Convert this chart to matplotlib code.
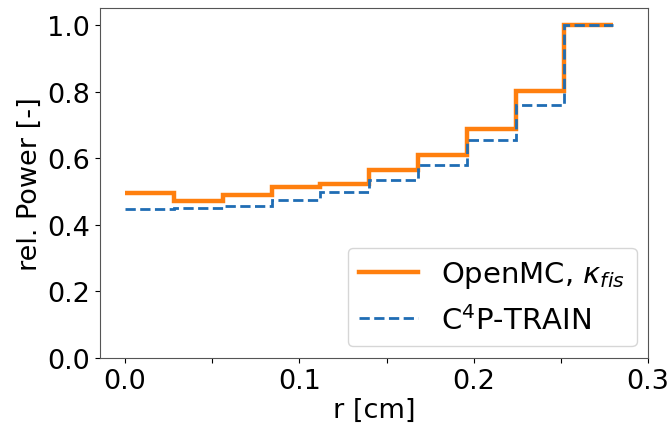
import matplotlib
matplotlib.use("Agg")
import matplotlib.pyplot as plt
import numpy as np

edges = [0.0, 0.028, 0.056, 0.084, 0.112, 0.14, 0.168, 0.196, 0.224, 0.252, 0.28]
openmc = [0.496, 0.473, 0.490, 0.515, 0.524, 0.566, 0.609, 0.687, 0.801, 1.0]
c4p = [0.448, 0.451, 0.456, 0.474, 0.498, 0.534, 0.581, 0.656, 0.759, 1.0]

plt.rcParams['font.size'] = 19.5
fig = plt.figure(figsize=(6.71, 4.31), dpi=100)
ax = fig.add_axes([0.149, 0.167, 0.817, 0.811])

ax.stairs(openmc, edges, baseline=None, color='#ff7f0e', linewidth=3.2,
          label=r'OpenMC, $\kappa_{fis}$')
ax.stairs(c4p, edges, baseline=None, color='#1f6db4', linewidth=2, linestyle='--',
          label=r'C$^4$P-TRAIN')

ax.set_xlim(-0.0144, 0.3)
ax.set_ylim(0, 1.05)
ax.set_xticks([0.0, 0.05, 0.1, 0.15, 0.2, 0.25, 0.3])
ax.set_xticklabels(['0.0', '', '0.1', '', '0.2', '', '0.3'])
ax.set_yticks([0.0, 0.2, 0.4, 0.6, 0.8, 1.0])
ax.set_xlabel('r [cm]', labelpad=2)
ax.set_ylabel('rel. Power [-]', labelpad=3)
ax.legend(loc='lower right', fontsize=21, borderaxespad=0.4)
for s in ax.spines.values():
    s.set_color('#555555')

fig.savefig('out.png', dpi=100)
